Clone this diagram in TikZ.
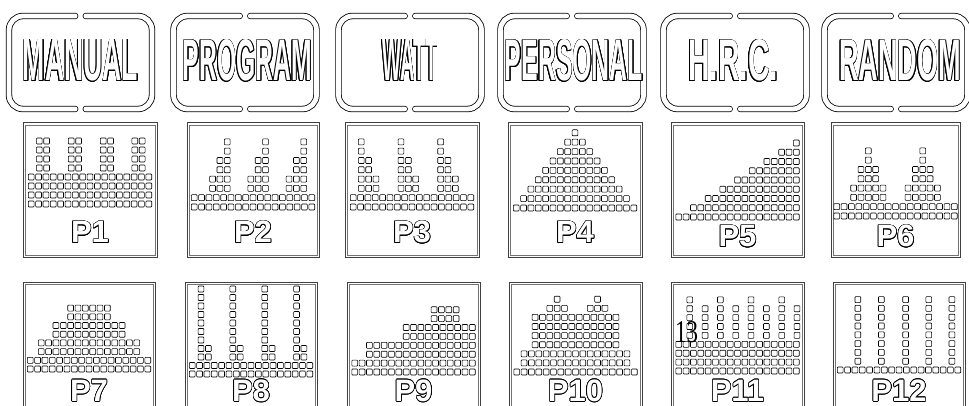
\documentclass[tikz,border=0pt]{standalone}
\usepackage{fontspec}
\usepackage{graphicx}
\usetikzlibrary{calc}
\newfontfamily\lsans{Liberation Sans}
\newfontfamily\lserif{Liberation Serif}
\tikzset{
  cellsq/.style={draw=black, line width=0.6pt, fill=white, rounded corners=0.8pt},
  frameout/.style={draw=black!75, line width=1pt},
  framein/.style={draw=black!55, line width=0.6pt},
  bandout/.style={draw=black, line width=6.4pt, line cap=round, rounded corners=14pt},
  bandin/.style={draw=white, line width=4.8pt, line cap=round, rounded corners=14pt},
  plab/.style={inner sep=0pt, anchor=base, text depth=0pt, font=\lsans\bfseries\fontsize{31}{31}\selectfont},
  blab/.style={inner sep=0pt, anchor=base, text depth=0pt, font=\lsans\bfseries},
}
% block of cells: cx, base, pitch, rows, starts, count
\newcommand\cellblock[6]{%
  \foreach \rr in {#4}{\foreach \ss in {#5}{\foreach \kk in {1,...,#6}{%
    \draw[cellsq] ({#1-62.475+(\ss+\kk-1)*7.35+0.775},{#2-\rr*#3}) rectangle ++(5.8,-6);}}}}
\newcommand\plabel[3]{%
  \foreach \ang in {0,22.5,...,337.5} \node[plab,text=black] at ($(#2)+(\ang:0.7)$) {#3};
  \node[plab,text=white] (#1) at (#2) {#3};}
\newcommand\blabel[5]{%
  \foreach \ang in {0,22.5,...,337.5} \node[blab,text=black] at ($(#2)+(\ang:0.6)$) {\resizebox{#3pt}{#4pt}{#5}};
  \node[blab,text=white] (#1) at (#2) {\resizebox{#3pt}{#4pt}{#5}};}
\newcommand\button[1]{%
  \begin{scope}[shift={(#1,0)}]
    \draw[bandout] (-5.3,16) -- (-71.5,16) -- (-71.5,109) -- (-5.3,109);
    \draw[bandout] (5.3,16) -- (71.5,16) -- (71.5,109) -- (5.3,109);
    \draw[bandin] (-5.3,16) -- (-71.5,16) -- (-71.5,109) -- (-5.3,109);
    \draw[bandin] (5.3,16) -- (71.5,16) -- (71.5,109) -- (5.3,109);
  \end{scope}}
\newcommand\panelframe[4]{%
  \draw[frameout] (#1,#2) rectangle (#3,#4);
  \draw[framein] ({#1+2},{#2+2}) rectangle ({#3-2},{#4-2});}
\begin{document}
\begin{tikzpicture}[x=1pt,y=-1pt]
\useasboundingbox (0,0) rectangle (969,406);
\fill[white] (0,0) rectangle (969,406);
\clip (0,0) rectangle (969,406);
% top buttons
\foreach \bx in {80.5,245,410,572,735,896} {\button{\bx}}
\blabel{manual}{80.5,81}{115}{41}{MANUAL}
\blabel{program}{247.5,81}{129}{41}{PROGRAM}
\blabel{watt}{410,81}{55}{41}{WATT}
\blabel{personal}{574,81}{138}{41}{PERSONAL}
\blabel{hrc}{733,81}{90}{41}{H.R.C.}
\blabel{random}{900,81}{122}{41}{RANDOM}
% panel frames row 2
\panelframe{23}{123}{157}{257}
\panelframe{187}{123}{319}{257}
\panelframe{345}{123}{479}{257}
\panelframe{508}{123}{642}{257}
\panelframe{671}{123}{804}{257}
\panelframe{831}{123}{960}{257}
% row 3
\panelframe{23}{282}{155}{420}
\panelframe{185}{282}{317}{420}
\panelframe{347}{282}{480}{420}
\panelframe{509}{282}{642}{420}
\panelframe{671}{282}{804}{420}
\panelframe{833}{282}{965}{420}
% P1
\cellblock{90}{207}{9}{0,...,3}{0}{17}
\cellblock{90}{207}{9}{4,...,7}{1.1,5.45,9.8,14.1}{2}
% P2
\cellblock{253}{210}{9.3}{0,1}{0}{17}
\cellblock{253}{210}{9.3}{2,3}{2.5,7.7,12.9}{3}
\cellblock{253}{210}{9.3}{4,5}{3.5,8.7,13.9}{2}
\cellblock{253}{210}{9.3}{6,7}{4.5,9.7,14.9}{1}
% P3
\cellblock{412}{210}{9.3}{0,1}{0}{17}
\cellblock{412}{210}{9.3}{2,3}{1.1,6.5,11.9}{3}
\cellblock{412}{210}{9.3}{4,5}{1.1,6.5,11.9}{2}
\cellblock{412}{210}{9.3}{6,7}{1.1,6.5,11.9}{1}
% P4
\foreach \q in {0,...,8} {\pgfmathtruncatemacro\cnt{17-2*\q}\cellblock{575}{211}{9.4}{\q}{\q}{\cnt}}
% P5
\foreach \q in {0,...,8} {\pgfmathtruncatemacro\cnt{17-2*\q}\pgfmathtruncatemacro\st{2*\q}\cellblock{737.5}{220}{9.25}{\q}{\st}{\cnt}}
% P6
\cellblock{895.5}{219}{9.3}{0,1}{0}{17}
\cellblock{895.5}{219}{9.3}{2,3}{2.3,9.7}{5}
\cellblock{895.5}{219}{9.3}{4,5}{3.3,10.7}{3}
\cellblock{895.5}{219}{9.3}{6,7}{4.3,11.7}{1}
% P7
\cellblock{89}{372}{8.7}{0,1}{0}{17}
\cellblock{89}{372}{8.7}{2,3}{1.5}{14}
\cellblock{89}{372}{8.7}{4,5}{3.5}{10}
\cellblock{89}{372}{8.7}{6,7}{5.5}{6}
% P8
\cellblock{251}{377}{8.5}{0,1}{0}{17}
\cellblock{251}{377}{8.5}{2,3}{1.2,5.53,9.87,14.2}{2}
\cellblock{251}{377}{8.5}{4,...,10}{1.2,5.53,9.87,14.2}{1}
% P9
\cellblock{413.5}{375}{8.9}{0,1}{0}{17}
\cellblock{413.5}{375}{8.9}{2,3}{2}{15}
\cellblock{413.5}{375}{8.9}{4,5}{7}{10}
\cellblock{413.5}{375}{8.9}{6,7}{10.8}{4}
% P10
\cellblock{575.5}{375}{9.1}{0}{0}{17}
\cellblock{575.5}{375}{9.1}{1,2}{1}{15}
\cellblock{575.5}{375}{9.1}{3,...,6}{2.5}{12}
\cellblock{575.5}{375}{9.1}{7}{4.5,10}{3}
\cellblock{575.5}{375}{9.1}{8}{5.5,11}{1}
% P11
\cellblock{737.5}{374}{8.9}{0,...,3}{0}{17}
\cellblock{737.5}{374}{8.9}{4,...,8}{1.5,5.67,9.84,14.02}{1}
\cellblock{737.5}{374}{8.9}{4,...,7}{3.59,7.76,11.93,16.1}{1}
% P12
\cellblock{899}{373}{8.8}{0}{0}{17}
\cellblock{899}{373}{8.8}{1,...,8}{2.4,5.6,8.9,12.05,15.2}{1}
% labels
\plabel{p1}{90,243}{P1}
\plabel{p2}{253,243}{P2}
\plabel{p3}{412,243}{P3}
\plabel{p4}{575,243}{P4}
\plabel{p5}{737.5,247}{P5}
\plabel{p6}{895.5,247}{P6}
\plabel{p7}{89,401.5}{P7}
\plabel{p8}{251,401.5}{P8}
\plabel{p9}{413.5,401.5}{P9}
\plabel{p10}{575.5,401.5}{P10}
\plabel{p11}{737.5,401.5}{P11}
\plabel{p12}{899,401.5}{P12}
\node[font=\lserif, inner sep=0pt, anchor=base] (pg) at (686.5,342) {\resizebox{23pt}{21pt}{13}};
\end{tikzpicture}
\end{document}
